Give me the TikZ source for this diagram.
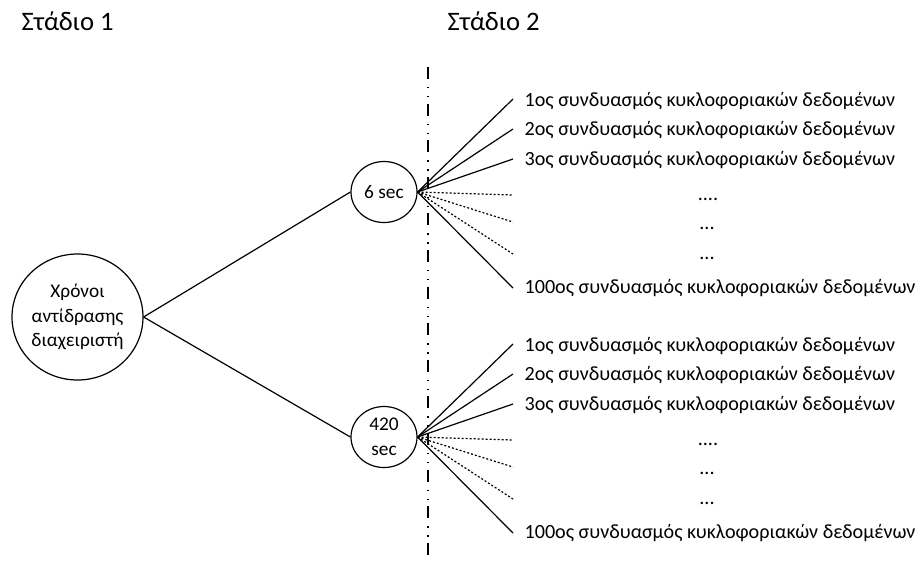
\documentclass[tikz,border=0pt]{standalone}
\usepackage{fontspec}
\setmainfont{Carlito}
\usetikzlibrary{shapes.geometric}
\begin{document}
\begin{tikzpicture}[x=0.75pt,y=-0.75pt,line width=0.9pt,
  txt/.style={font=\fontsize{15.1}{18}\selectfont,inner sep=0pt},
  head/.style={font=\fontsize{20}{24}\selectfont,inner sep=0pt,anchor=base west},
  bigc/.style={draw,ellipse,minimum width=98.25pt,minimum height=94.5pt,inner sep=0pt},
  smallc/.style={draw,ellipse,minimum width=49.5pt,minimum height=45.75pt,inner sep=0pt},
  intext/.style={font=\fontsize{14.5}{18.5}\selectfont,align=center,inner sep=0pt},
  lbl/.style={txt,anchor=base west},
  dotlbl/.style={txt,anchor=base},
  dotline/.style={dash pattern=on 1.5pt off 1.5pt},
  divider/.style={dash pattern=on 9pt off 6pt on 1pt off 5.75pt on 1pt off 4.7pt}]
\useasboundingbox (0,0) rectangle (924,561);

% stage headings
\node[head] (s1) at (21,30) {Στάδιο 1};
\node[head] (s2) at (447,30) {Στάδιο 2};

% stage divider
\coordinate (dtop) at (428,67);
\coordinate (dbot) at (428,557);
\draw[divider] (dtop) -- (dbot);

% decision nodes
\node[bigc,label={[intext]center:Χρόνοι\\αντίδρασης\\διαχειριστή}] (root) at (77.5,317) {};
\node[smallc,label={[intext]center:6 sec}] (t6) at (384,192) {};
\node[smallc,label={[intext]center:420\\sec}] (t420) at (384,437) {};

\draw (root.east) -- (t6.west);
\draw (root.east) -- (t420.west);

% traffic data combinations for each reaction time
\foreach \g/\cy in {6/192,420/437}{
  \foreach \k/\dy in {1/-93,2/-63,3/-33,4/3,5/30,6/62,7/96}
    \coordinate (e\g-\k) at (513,{\cy+\dy});
  \foreach \k in {1,2,3,7} \draw (t\g.east) -- (e\g-\k);
  \foreach \k in {4,5,6} \draw[dotline] (t\g.east) -- (e\g-\k);
  \node[lbl] (l\g-1) at (524,{\cy-86}) {1ος συνδυασμός κυκλοφοριακών δεδομένων};
  \node[lbl] (l\g-2) at (524,{\cy-57}) {2ος συνδυασμός κυκλοφοριακών δεδομένων};
  \node[lbl] (l\g-3) at (524,{\cy-27}) {3ος συνδυασμός κυκλοφοριακών δεδομένων};
  \node[dotlbl] (l\g-4) at (708,{\cy+8}) {....};
  \node[dotlbl] (l\g-5) at (707,{\cy+37}) {...};
  \node[dotlbl] (l\g-6) at (707,{\cy+67}) {...};
  \node[lbl] (l\g-7) at (524,{\cy+101}) {100ος συνδυασμός κυκλοφοριακών δεδομένων};
}
\end{tikzpicture}
\end{document}
